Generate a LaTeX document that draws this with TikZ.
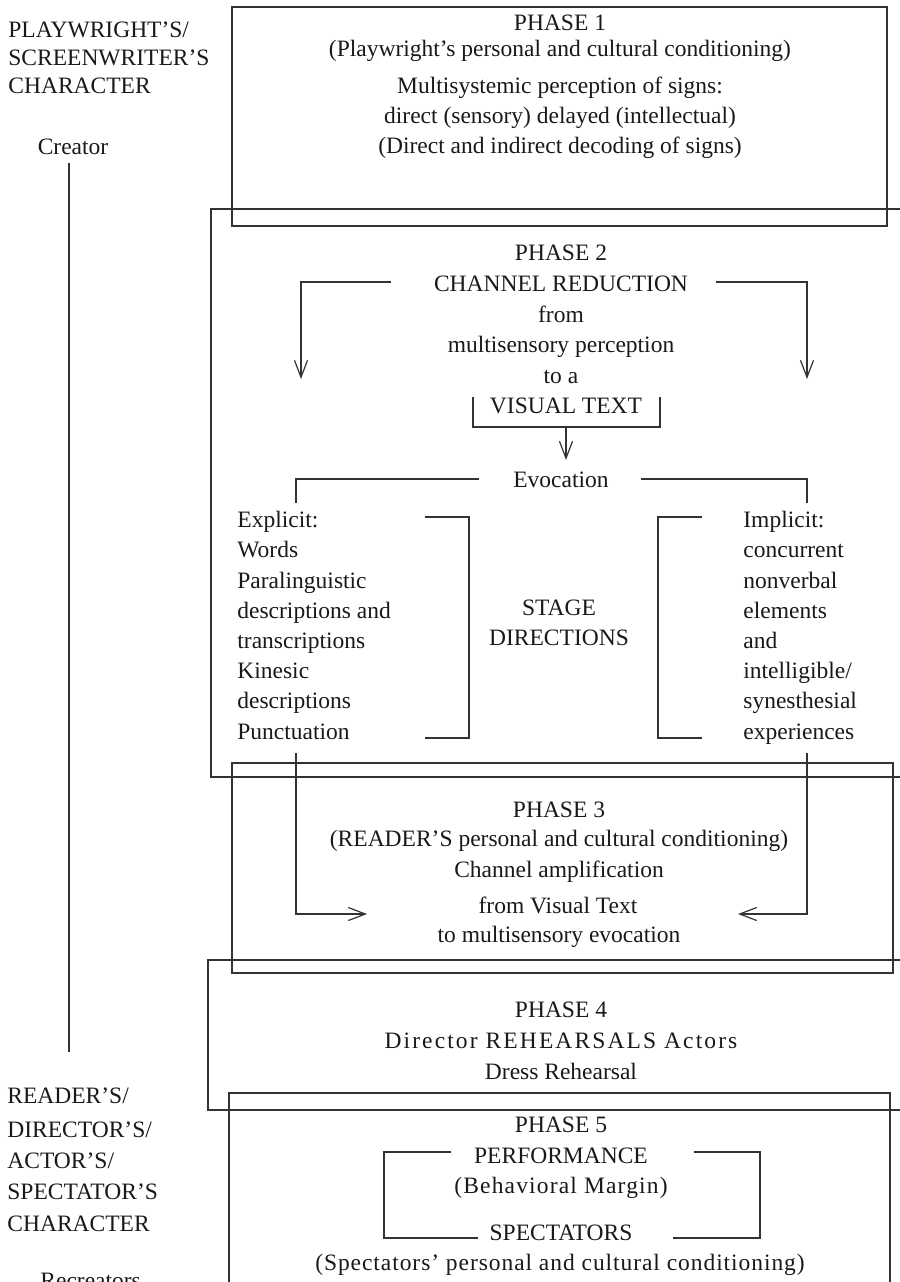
\documentclass[tikz,border=0pt]{standalone}
\usepackage{fontspec}
\setmainfont{Liberation Serif}
\usetikzlibrary{arrows.meta}
\begin{document}
\begin{tikzpicture}[x=0.5pt,y=-0.5pt,
  font=\fontsize{11.75}{14}\selectfont,
  txt/.style={anchor=base,inner sep=0pt,text=black!90},
  lft/.style={txt,anchor=base west},
  frame/.style={draw=black!80,line width=0.6pt},
  link/.style={draw=black!80,line width=0.6pt},
  arr/.style={link,-{Straight Barb[length=8.5pt,width=6.5pt,line width=0.6pt]}}]
\clip (0,0) rectangle (900,1282);

% ---- left column: creator and recreators ----
\node[lft] (pw1) at (8,37) {PLAYWRIGHT’S/};
\node[lft] (pw2) at (8,65) {SCREENWRITER’S};
\node[lft] (pw3) at (8,93) {CHARACTER};
\node[txt] (creator) at (73,154) {Creator};
\node[lft] (rc1) at (7,1103) {READER’S/};
\node[lft] (rc2) at (7,1137) {DIRECTOR’S/};
\node[lft] (rc3) at (7,1168) {ACTOR’S/};
\node[lft] (rc4) at (7,1199) {SPECTATOR’S};
\node[lft] (rc5) at (7,1231) {CHARACTER};
\node[lft] (recreators) at (40,1288) {Recreators};
\coordinate (axisTop) at (69,163);
\coordinate (axisBot) at (69,1052);
\draw[link] (axisTop) -- (axisBot);

% ---- phase frames ----
\draw[frame] (232,7) rectangle (887,226);
\draw[frame] (900,209) -- (211,209) -- (211,777) -- (900,777);
\draw[frame] (232,763) rectangle (893,973);
\draw[frame] (900,960) -- (208,960) -- (208,1110) -- (900,1110);
\draw[frame] (229,1300) -- (229,1093) -- (890,1093) -- (890,1300);

% ---- phase 1 ----
\node[txt] (p1a) at (560,30) {PHASE 1};
\node[txt] (p1b) at (560,56) {(Playwright’s personal and cultural conditioning)};
\node[txt] (p1c) at (560,93) {Multisystemic perception of signs:};
\node[txt] (p1d) at (560,123) {direct (sensory) delayed (intellectual)};
\node[txt] (p1e) at (560,153) {(Direct and indirect decoding of signs)};

% ---- phase 2 ----
\node[txt] (p2a) at (561,260) {PHASE 2};
\node[txt] (cr)  at (561,291) {CHANNEL REDUCTION};
\node[txt] (p2c) at (561,322) {from};
\node[txt] (p2d) at (561,352) {multisensory perception};
\node[txt] (p2e) at (561,383) {to a};
\node[txt] (vt)  at (566,413) {VISUAL TEXT};
\node[txt] (evo) at (561,487) {Evocation};

\coordinate (crL) at (391,282);  \coordinate (crLtip) at (301,379);
\coordinate (crR) at (716,282);  \coordinate (crRtip) at (807,379);
\draw[arr] (crL) -| (crLtip);
\draw[arr] (crR) -| (crRtip);

\coordinate (vtL) at (473,397); \coordinate (vtB) at (660,427); \coordinate (vtR) at (660,397);
\draw[link] (vtL) |- (vtB) -- (vtR);
\coordinate (vtOut) at (566,427); \coordinate (vtTip) at (566,460);
\draw[arr] (vtOut) -- (vtTip);

\coordinate (evL) at (479,479); \coordinate (evLend) at (296,503);
\coordinate (evR) at (641,479); \coordinate (evRend) at (807,503);
\draw[link] (evL) -| (evLend);
\draw[link] (evR) -| (evRend);

% explicit column
\node[lft] (ex1) at (237,527) {Explicit:};
\node[lft] (ex2) at (237,557) {Words};
\node[lft] (ex3) at (237,588) {Paralinguistic};
\node[lft] (ex4) at (237,618) {descriptions and};
\node[lft] (ex5) at (237,648) {transcriptions};
\node[lft] (ex6) at (237,678) {Kinesic};
\node[lft] (ex7) at (237,708) {descriptions};
\node[lft] (ex8) at (237,739) {Punctuation};

% implicit column
\node[lft] (im1) at (743,527) {Implicit:};
\node[lft] (im2) at (743,557) {concurrent};
\node[lft] (im3) at (743,588) {nonverbal};
\node[lft] (im4) at (743,618) {elements};
\node[lft] (im5) at (743,648) {and};
\node[lft] (im6) at (743,678) {intelligible/};
\node[lft] (im7) at (743,708) {synesthesial};
\node[lft] (im8) at (743,739) {experiences};

\node[txt] (sd1) at (559,615) {STAGE};
\node[txt] (sd2) at (559,645) {DIRECTIONS};

\coordinate (bxTop) at (425,517); \coordinate (bxBot) at (469,738); \coordinate (bxEnd) at (425,738);
\draw[link] (bxTop) -| (bxBot) -- (bxEnd);
\coordinate (biTop) at (702,517); \coordinate (biBot) at (658,738); \coordinate (biEnd) at (702,738);
\draw[link] (biTop) -| (biBot) -- (biEnd);

% ---- phase 3 ----
\node[txt] (p3a) at (559,817) {PHASE 3};
\node[txt] (p3b) at (559,846) {(READER’S personal and cultural conditioning)};
\node[txt] (p3c) at (559,877) {Channel amplification};
\node[txt] (fvt) at (558,913) {from Visual Text};
\node[txt] (p3e) at (559,942) {to multisensory evocation};

\coordinate (exOut) at (296,753); \coordinate (exTip) at (367,914);
\coordinate (imOut) at (807,753); \coordinate (imTip) at (738,914);
\draw[arr] (exOut) |- (exTip);
\draw[arr] (imOut) |- (imTip);

% ---- phase 4 ----
\node[txt] (p4a) at (561,1017) {PHASE 4};
\node[txt] (p4b) at (561,1048) {\addfontfeatures{LetterSpace=9}Director REHEARSALS Actors};
\node[txt] (p4c) at (561,1079) {Dress Rehearsal};

% ---- phase 5 ----
\node[txt] (p5a) at (561,1132) {PHASE 5};
\node[txt] (perf) at (561,1163) {PERFORMANCE};
\node[txt] (marg) at (561,1193) {\addfontfeatures{LetterSpace=5}(Behavioral Margin)};
\node[txt] (spec) at (561,1240) {SPECTATORS};
\node[txt] (p5e) at (560,1270) {\addfontfeatures{LetterSpace=4}(Spectators’ personal and cultural conditioning)};

\coordinate (lpTop) at (451,1152); \coordinate (lpBot) at (384,1238); \coordinate (lpEnd) at (478,1238);
\draw[link] (lpTop) -| (lpBot) -- (lpEnd);
\coordinate (rpTop) at (694,1152); \coordinate (rpBot) at (760,1238); \coordinate (rpEnd) at (673,1238);
\draw[link] (rpTop) -| (rpBot) -- (rpEnd);
\end{tikzpicture}
\end{document}
